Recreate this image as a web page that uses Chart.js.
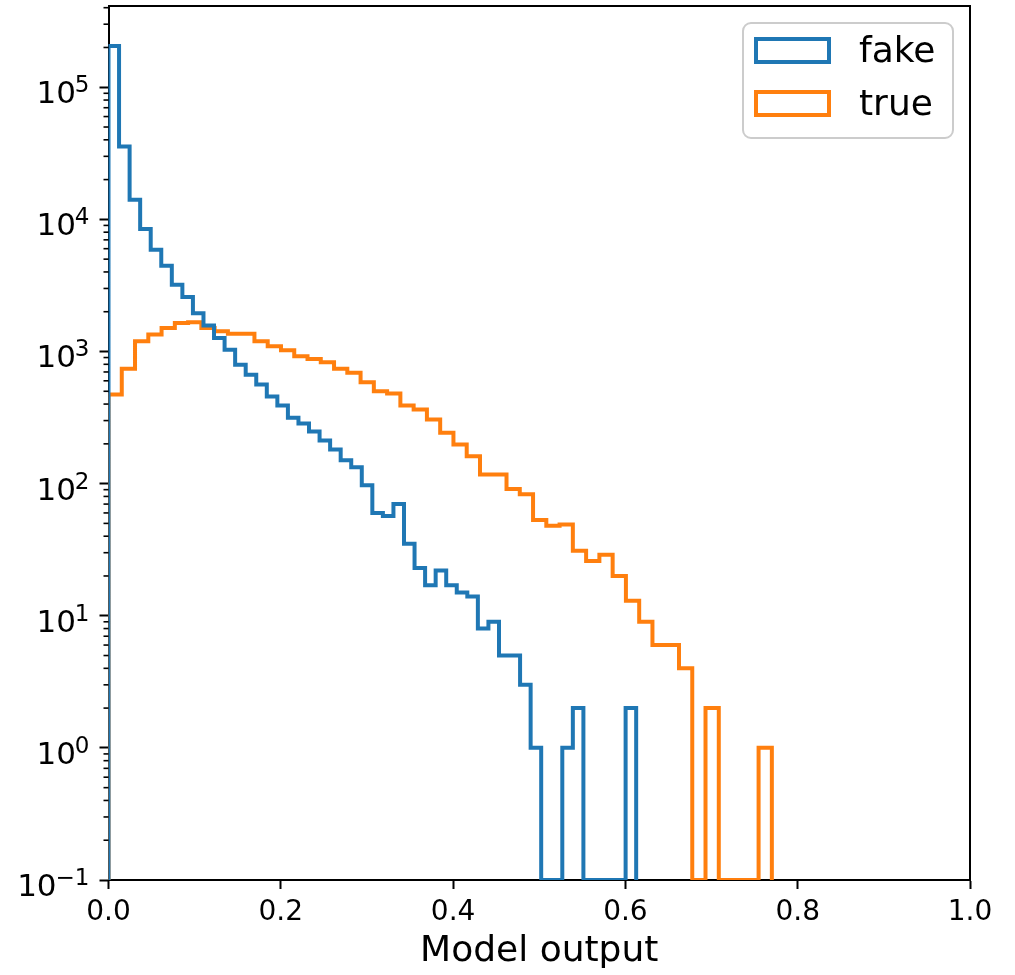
<!DOCTYPE html>
<html>
<head>
<meta charset="utf-8">
<title>Model output histogram</title>
<script src="https://cdn.jsdelivr.net/npm/chart.js@4.4.0/dist/chart.umd.min.js"></script>
<style>
  html, body { margin: 0; padding: 0; background: #fff; }
  #wrap { width: 1015px; height: 975px; position: relative; }
</style>
</head>
<body>
<div id="wrap"><canvas id="histChart"></canvas></div>
<script>
// Counts per bin, 50 equal bins over each series' own range
const fakeCounts = [
  205000, 35600, 14060, 8450, 5890, 4450, 3200, 2590, 1950, 1570,
  1267, 1033, 795, 668, 562, 456, 390, 315, 285, 248,
  212, 181, 150, 133, 97, 60, 57, 70, 35, 23,
  17, 22, 17, 15, 14, 8, 9, 5, 5, 3,
  1, 0, 0, 1, 2, 0, 0, 0, 0, 2
];
const trueCounts = [
  472, 740, 1195, 1343, 1508, 1645, 1662, 1508, 1422, 1365,
  1365, 1195, 1094, 1021, 920, 879, 829, 740, 689, 585,
  500, 481, 390, 364, 306, 243, 198, 161, 117, 117,
  91, 83, 53, 48, 49, 31, 26, 29, 20, 13,
  9, 6, 6, 4, 0, 2, 0, 0, 0, 1
];
const fakeRange = [0, 0.6125];
const trueRange = [0, 0.77];
const seriesNames = ['fake', 'true'];

const xTickValues = [0, 0.2, 0.4, 0.6, 0.8, 1.0];
const xTickLabels = ['0.0', '0.2', '0.4', '0.6', '0.8', '1.0'];
const yTickValues = [0.1, 1, 10, 100, 1000, 10000, 100000];
const yTickExponents = ['\u22121', '0', '1', '2', '3', '4', '5'];
const yMin = 0.1;
const yMax = 412000;

Chart.defaults.font.family = '"DejaVu Sans", sans-serif';
Chart.defaults.color = '#000';

// outline of a step histogram: up from the floor, across each bin, back down
function stepPoints(counts, range) {
    const w = (range[1] - range[0]) / counts.length;
    const pts = [{x: range[0], y: yMin}];
    counts.forEach((c, i) => {
        pts.push({x: range[0] + i * w, y: c > 0 ? c : yMin});
    });
    pts.push({x: range[1], y: yMin});
    return pts;
}

// top and right spines
const frameLines = {
    id: 'frameLines',
    beforeDatasetsDraw(chart) {
        const {ctx, chartArea: a} = chart;
        ctx.save();
        ctx.strokeStyle = '#000';
        ctx.lineWidth = 2;
        ctx.beginPath();
        ctx.moveTo(a.left, a.top);
        ctx.lineTo(a.right, a.top);
        ctx.lineTo(a.right, a.bottom);
        ctx.stroke();
        ctx.restore();
    }
};

// short ticks between decades on the log axis
const minorTicks = {
    id: 'minorTicks',
    afterDraw(chart) {
        const {ctx, chartArea: a} = chart;
        const y = chart.scales.y;
        ctx.save();
        ctx.strokeStyle = '#000';
        ctx.lineWidth = 1.6;
        for (let e = -1; e <= 5; e++) {
            for (let m = 2; m <= 9; m++) {
                const v = m * Math.pow(10, e);
                if (v > yMax) continue;
                const py = y.getPixelForValue(v);
                ctx.beginPath();
                ctx.moveTo(a.left - 5, py);
                ctx.lineTo(a.left, py);
                ctx.stroke();
            }
        }
        ctx.restore();
    }
};

// decade labels as 10 with a raised exponent
const powerLabels = {
    id: 'powerLabels',
    afterDraw(chart) {
        const {ctx, chartArea: a} = chart;
        const y = chart.scales.y;
        const baseFont = '31px "DejaVu Sans"';
        const expFont = '23px "DejaVu Sans"';
        ctx.save();
        ctx.fillStyle = '#000';
        ctx.textBaseline = 'alphabetic';
        ctx.textAlign = 'left';
        yTickValues.forEach((v, i) => {
            const py = y.getPixelForValue(v);
            ctx.font = expFont;
            const ew = ctx.measureText(yTickExponents[i]).width;
            ctx.font = baseFont;
            const bw = ctx.measureText('10').width;
            const x0 = a.left - 19 - ew - bw + 1;
            ctx.fillText('10', x0, py + 16);
            ctx.font = expFont;
            ctx.fillText(yTickExponents[i], x0 + bw - 1, py + 5);
        });
        ctx.restore();
    }
};

// framed legend with open rectangles, upper right corner of the plot
const boxLegend = {
    id: 'boxLegend',
    afterDraw(chart) {
        const {ctx, chartArea: a} = chart;
        const right = a.right - 17;
        const top = a.top + 17;
        const w = 210, h = 115;
        const left = right - w;
        ctx.save();
        ctx.fillStyle = 'rgba(255,255,255,0.8)';
        ctx.strokeStyle = '#cccccc';
        ctx.lineWidth = 2;
        ctx.beginPath();
        ctx.roundRect(left, top, w, h, 8);
        ctx.fill();
        ctx.stroke();
        ctx.font = '36px "DejaVu Sans"';
        ctx.textBaseline = 'alphabetic';
        ctx.textAlign = 'left';
        chart.data.datasets.forEach((ds, i) => {
            const rowTop = top + 16 + i * 53;
            ctx.strokeStyle = ds.borderColor;
            ctx.lineWidth = 4;
            ctx.strokeRect(left + 13, rowTop, 73, 23);
            ctx.fillStyle = '#000';
            ctx.fillText(ds.label, left + 116, rowTop + 23);
        });
        ctx.restore();
    }
};

const ctx = document.getElementById('histChart').getContext('2d');
new Chart(ctx, {
    type: 'line',
    data: {
        datasets: [{
            label: seriesNames[0],
            data: stepPoints(fakeCounts, fakeRange),
            borderColor: '#1f77b4',
            backgroundColor: 'transparent',
            borderWidth: 4,
            stepped: 'before',
            pointRadius: 0,
            fill: false
        }, {
            label: seriesNames[1],
            data: stepPoints(trueCounts, trueRange),
            borderColor: '#ff7f0e',
            backgroundColor: 'transparent',
            borderWidth: 4,
            stepped: 'before',
            pointRadius: 0,
            fill: false
        }]
    },
    options: {
        responsive: true,
        maintainAspectRatio: false,
        animation: false,
        layout: {padding: {top: 6, right: 45, bottom: 0, left: 0}},
        plugins: {
            legend: {display: false},
            tooltip: {enabled: false}
        },
        scales: {
            x: {
                type: 'linear',
                min: 0,
                max: 1,
                afterFit: (s) => { s.height = 95; s.paddingLeft = 0; s.paddingRight = 0; },
                afterBuildTicks: (s) => { s.ticks = xTickValues.map(v => ({value: v})); },
                ticks: {
                    callback: (v, i) => xTickLabels[i],
                    font: {size: 28},
                    color: '#000',
                    padding: 7,
                    maxRotation: 0,
                    autoSkip: false
                },
                grid: {drawOnChartArea: false, drawTicks: true, tickLength: 9, tickWidth: 2, tickColor: '#000'},
                border: {display: true, color: '#000', width: 2},
                title: {
                    display: true,
                    text: 'Model output',
                    font: {size: 36},
                    color: '#000',
                    padding: {top: 0, bottom: 2}
                }
            },
            y: {
                type: 'logarithmic',
                min: yMin,
                max: yMax,
                afterFit: (s) => { s.width = 108.5; s.paddingTop = 0; s.paddingBottom = 0; },
                afterBuildTicks: (s) => { s.ticks = yTickValues.map(v => ({value: v})); },
                ticks: {display: false, autoSkip: false},
                grid: {drawOnChartArea: false, drawTicks: true, tickLength: 9, tickWidth: 2, tickColor: '#000'},
                border: {display: true, color: '#000', width: 2}
            }
        }
    },
    plugins: [frameLines, minorTicks, powerLabels, boxLegend]
});
</script>
</body>
</html>
